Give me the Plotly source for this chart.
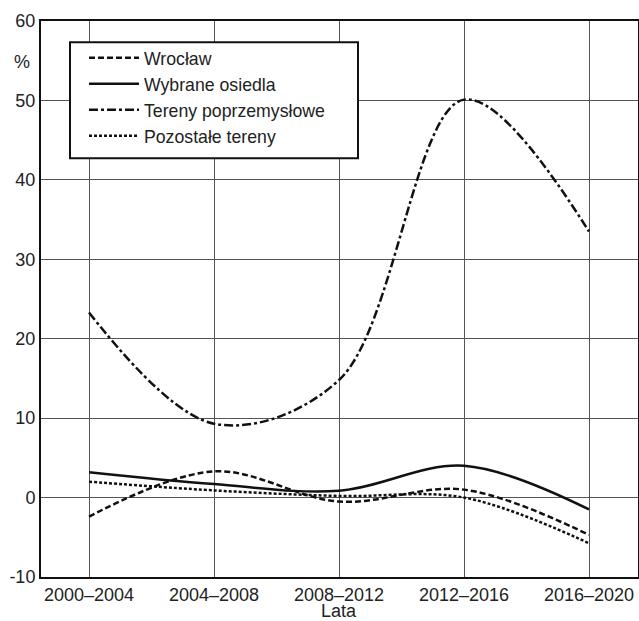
import plotly.graph_objects as go

categories = ["2000–2004", "2004–2008", "2008–2012", "2012–2016", "2016–2020"]
wroclaw = [-2.4, 3.3, -0.5, 1.0, -4.7]
osiedla = [3.2, 1.7, 0.85, 4.0, -1.5]
poprzem = [23.3, 9.3, 14.8, 50.1, 33.5]
pozostale = [2.0, 0.9, 0.2, 0.0, -5.75]
y_ticks = [-10, 0, 10, 20, 30, 40, 50, 60]
y_ticklabels = ["-10", "0", "10", "20", "30", "40", "50", "60"]

names = ["Wrocław", "Wybrane osiedla", "Tereny poprzemysłowe", "Pozostałe tereny"]
series = [wroclaw, osiedla, poprzem, pozostale]
dashes = ["6px,3px", "solid", "9px,3px,3px,3px", "3px,2px"]

FONT = "Liberation Sans, Arial, sans-serif"
TICK = 18

fig = go.Figure()
xs = list(range(len(categories)))
for name, vals, d in zip(names, series, dashes):
    fig.add_trace(go.Scatter(
        x=xs, y=vals, name=name, mode="lines",
        line=dict(color="#111111", width=2.5, dash=d, shape="spline", smoothing=1.0),
    ))

fig.update_layout(
    width=639, height=621,
    margin=dict(l=41, r=1, t=21, b=44),
    paper_bgcolor="white", plot_bgcolor="white",
    font=dict(family=FONT, size=17.5, color="#222222"),
    showlegend=True,
    legend=dict(
        x=0.072, y=(577 - 97) / 556.3, xanchor="left", yanchor="middle",
        bgcolor="rgba(0,0,0,0)", borderwidth=0,
        font=dict(family=FONT, size=17.7, color="#222222"),
        itemwidth=50, tracegroupgap=0,
    ),
    xaxis=dict(
        tickmode="array", tickvals=xs, ticktext=categories,
        range=[-0.384, 4.392], automargin=False,
        showgrid=True, gridcolor="#555555", gridwidth=1,
        showline=True, linecolor="#111111", linewidth=2, mirror=True,
        ticks="", zeroline=False,
        tickfont=dict(size=TICK),
    ),
    yaxis=dict(
        range=[-10, 60], tickmode="array", tickvals=y_ticks, ticktext=y_ticklabels,
        automargin=False,
        showgrid=True, gridcolor="#555555", gridwidth=1,
        showline=True, linecolor="#111111", linewidth=2, mirror=True,
        ticks="", zeroline=False,
        tickfont=dict(size=TICK),
    ),
    shapes=[dict(
        type="rect", xref="paper", yref="paper",
        x0=(70 - 41) / 597, x1=(358 - 41) / 597,
        y0=(577 - 158) / 556.3, y1=(577 - 42) / 556.3,
        fillcolor="white", line=dict(color="#111111", width=2), layer="above",
    )],
    annotations=[
        dict(text="%", xref="paper", yref="paper",
             x=(22 - 41) / 597, y=(577 - 62) / 556.3,
             xanchor="center", yanchor="middle",
             showarrow=False, font=dict(size=TICK)),
        dict(text="Lata", xref="paper", yref="paper",
             x=(339 - 41) / 597, y=(577 - 611.5) / 556.3,
             xanchor="center", yanchor="middle",
             showarrow=False, font=dict(size=TICK)),
    ],
)

fig.write_html("out.html", config={"displayModeBar": False},
               post_script="document.body.style.margin='0';")
